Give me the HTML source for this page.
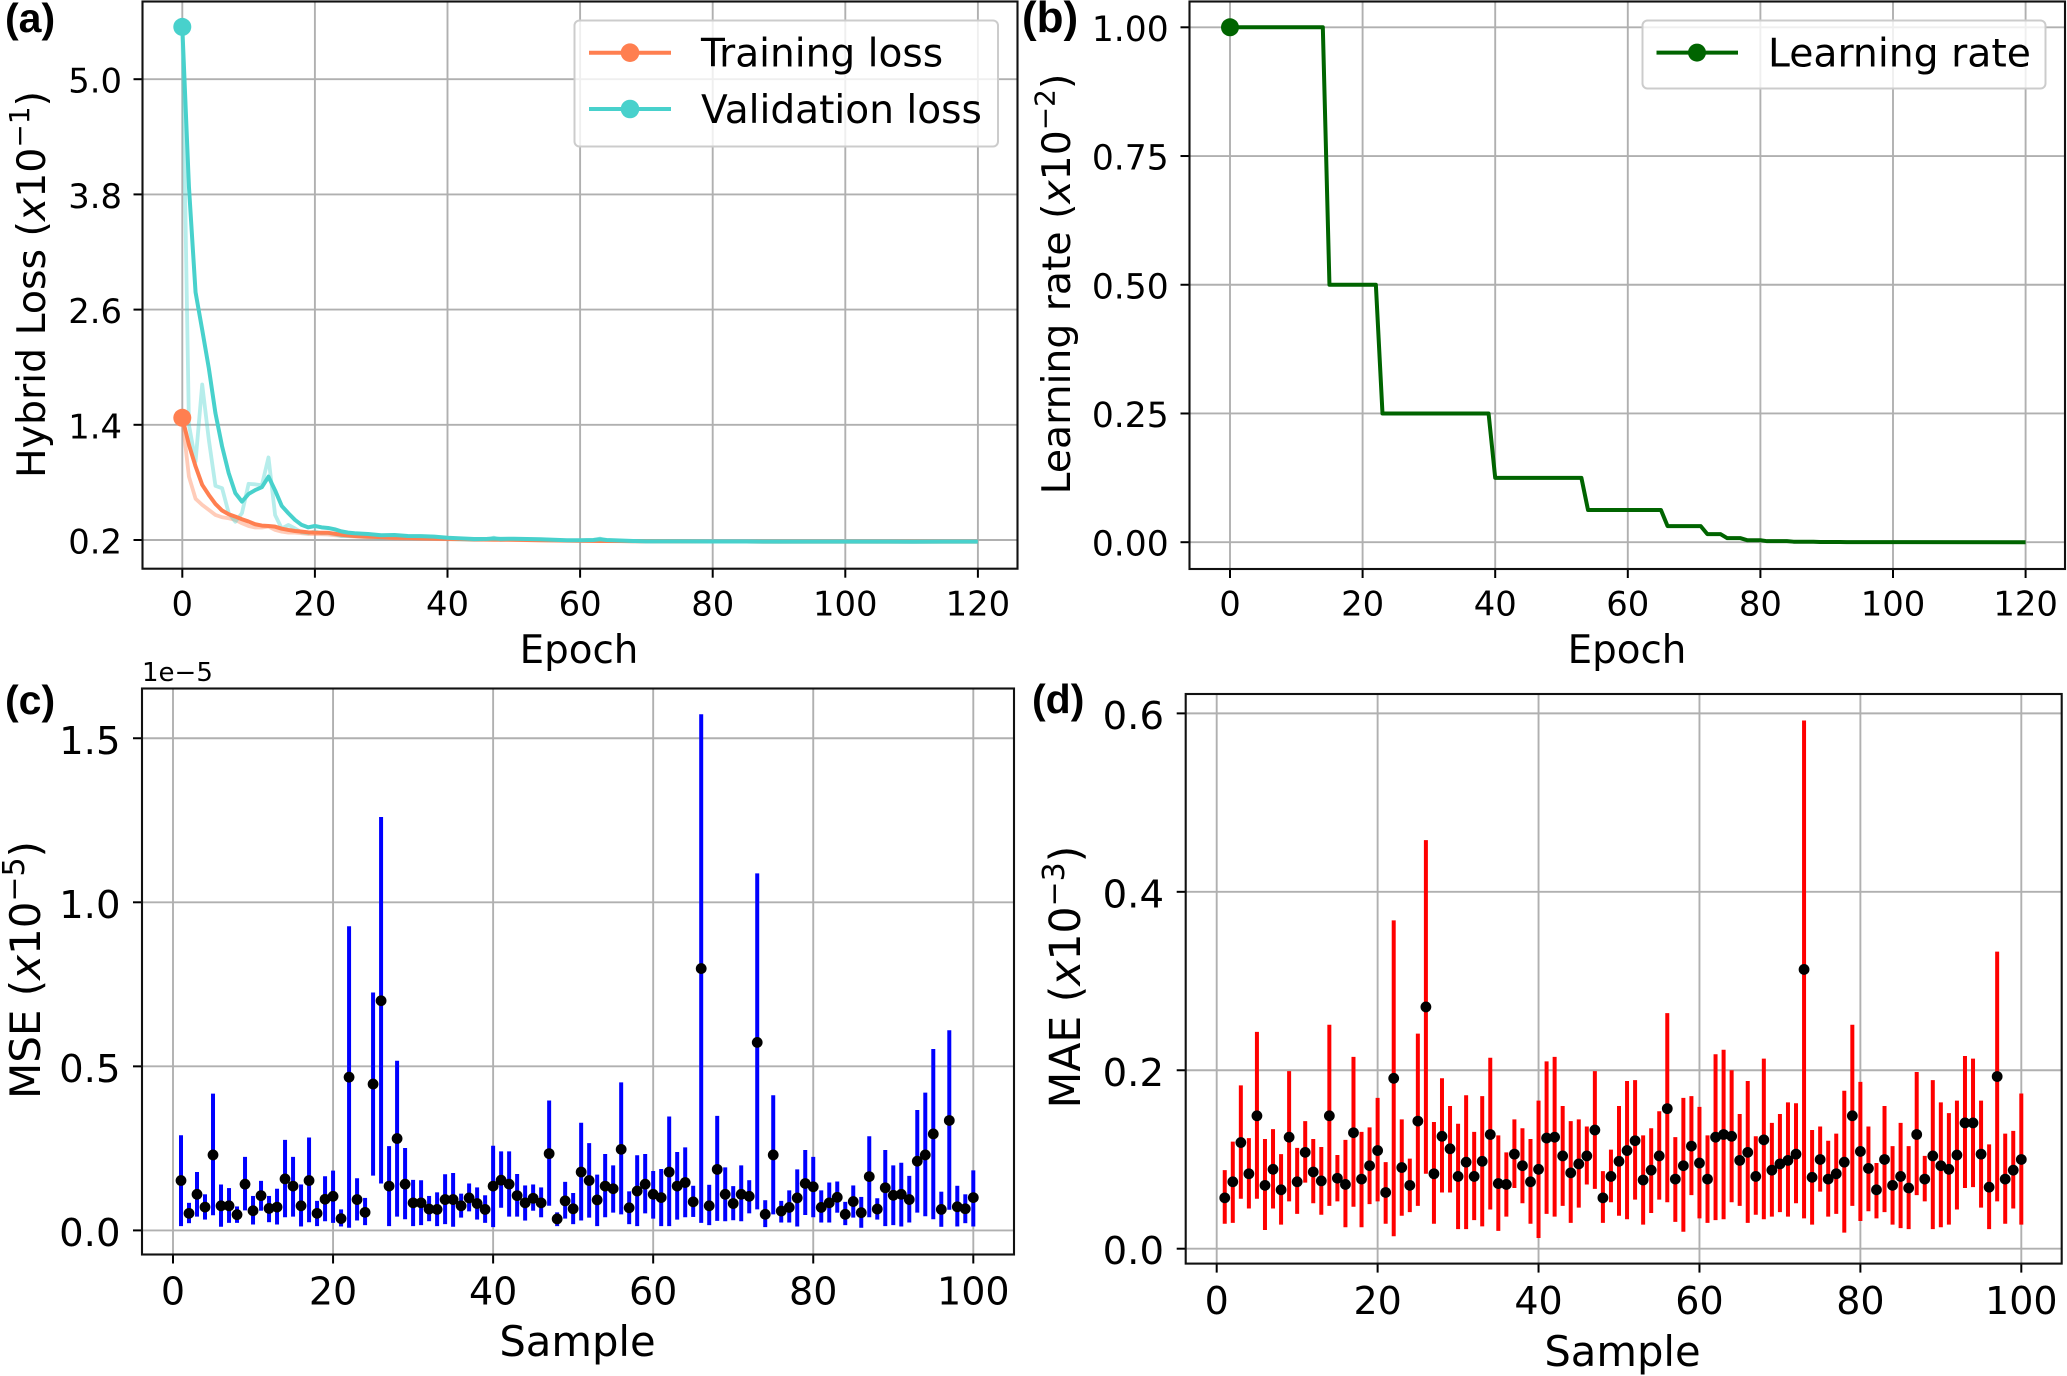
<!DOCTYPE html>
<html lang="en">
<head>
<meta charset="utf-8">
<title>Training curves and per-sample error</title>
<style>
html,body{margin:0;padding:0;background:#fff;}
svg{display:block;}
text{font-family:"DejaVu Sans","Liberation Sans",sans-serif;fill:#000;}
.panel-tag{font-family:"Liberation Sans",sans-serif;font-weight:700;font-size:41px;}
</style>
</head>
<body>
<svg id="fig" xmlns="http://www.w3.org/2000/svg" width="2067" height="1376" viewBox="0 0 2067 1376">
  <rect x="0" y="0" width="2067" height="1376" fill="#fff"/>
  <g id="pa"></g>
  <g id="pb"></g>
  <g id="pc"></g>
  <g id="pd"></g>

  <text class="panel-tag" x="5" y="32">(a)</text>
  <text class="panel-tag" x="1022" y="32" style="font-size:44px">(b)</text>
  <text class="panel-tag" x="5" y="714">(c)</text>
  <text class="panel-tag" x="1032" y="713">(d)</text>

  <text x="579" y="663" font-size="38.8" text-anchor="middle">Epoch</text>
  <text x="1627" y="663" font-size="38.8" text-anchor="middle">Epoch</text>
  <text x="577.5" y="1356" font-size="41.7" text-anchor="middle">Sample</text>
  <text x="1622.5" y="1366" font-size="41.7" text-anchor="middle">Sample</text>

  <text transform="translate(45 284.5) rotate(-90)" font-size="39.4" text-anchor="middle">Hybrid Loss (<tspan font-style="italic">x</tspan>10<tspan dy="-16" font-size="28">−1</tspan><tspan dy="16">)</tspan></text>
  <text transform="translate(1070 284) rotate(-90)" font-size="39.3" text-anchor="middle">Learning rate (<tspan font-style="italic">x</tspan>10<tspan dy="-15.5" font-size="28">−2</tspan><tspan dy="15.5">)</tspan></text>
  <text transform="translate(40 970) rotate(-90)" font-size="42" text-anchor="middle">MSE (<tspan font-style="italic">x</tspan>10<tspan dy="-16" font-size="30">−5</tspan><tspan dy="16">)</tspan></text>
  <text transform="translate(1080 977) rotate(-90)" font-size="42.5" text-anchor="middle">MAE (<tspan font-style="italic">x</tspan>10<tspan dy="-16" font-size="30">−3</tspan><tspan dy="16">)</tspan></text>

  <text x="142" y="681" font-size="26">1e−5</text>

  <g id="legend-a">
    <rect x="574.5" y="20.5" width="423.5" height="126" rx="5" ry="5" fill="#fff" fill-opacity="0.8" stroke="#cccccc" stroke-width="2"/>
    <g>
      <line x1="589" y1="52.7" x2="671" y2="52.7" stroke="#ff7f50" stroke-width="4"/>
      <circle cx="630" cy="52.7" r="9.3" fill="#ff7f50"/>
      <text x="701" y="66.5" font-size="39.1">Training loss</text>
    </g>
    <g>
      <line x1="589" y1="109" x2="671" y2="109" stroke="#48d1cc" stroke-width="4"/>
      <circle cx="630" cy="109" r="9.3" fill="#48d1cc"/>
      <text x="701" y="123" font-size="39.1">Validation loss</text>
    </g>
  </g>
  <g id="legend-b">
    <rect x="1642.5" y="20.5" width="403" height="68" rx="5" ry="5" fill="#fff" fill-opacity="0.8" stroke="#cccccc" stroke-width="2"/>
    <line x1="1656.5" y1="52.6" x2="1738" y2="52.6" stroke="#006400" stroke-width="4"/>
    <circle cx="1697" cy="52.6" r="9" fill="#006400"/>
    <text x="1768" y="66.5" font-size="39.3">Learning rate</text>
  </g>
</svg>
<script>
/* ---------- Panel (a): hybrid loss ---------- */
const lossEpochs = [0,1,2,3,4,5,6,7,8,9,10,11,12,13,14,15,16,17,18,19,20,21,22,23,24,25,26,28,30,32,34,36,38,40,42,44,46,47,48,50,52,54,56,58,60,62,63,64,66,68,70,75,80,85,90,95,100,105,110,115,120];
const trainLossRaw = [1.473,.86,.63,.566,.514,.461,.437,.426,.41,.374,.346,.33,.33,.34,.305,.287,.277,.277,.27,.263,.262,.26,.258,.25,.245,.24,.235,.228,.222,.218,.215,.212,.21,.208,.206,.204,.202,.202,.201,.2,.198,.196,.194,.192,.19,.189,.189,.188,.187,.186,.185,.185,.184,.184,.183,.183,.183,.183,.183,.183,.183];
const trainLossSmooth = [1.473,1.193,.967,.775,.67,.576,.507,.468,.444,.416,.392,.364,.35,.346,.339,.318,.305,.294,.287,.28,.277,.276,.275,.265,.255,.248,.242,.235,.23,.225,.222,.218,.215,.212,.21,.207,.205,.204,.204,.203,.2,.198,.196,.194,.192,.191,.19,.19,.189,.188,.187,.186,.184,.184,.183,.183,.183,.183,.183,.183,.183];
const valLossRaw = [5.545,1.4,1.02,1.82,1.245,.764,.74,.48,.39,.48,.785,.78,.77,1.06,.46,.32,.357,.32,.28,.27,.29,.27,.27,.26,.24,.24,.24,.23,.22,.23,.22,.225,.22,.21,.205,.2,.205,.225,.2,.21,.205,.2,.195,.195,.195,.2,.215,.195,.19,.186,.185,.185,.183,.185,.182,.184,.183,.182,.184,.183,.183];
const valLossSmooth = [5.545,3.88,2.78,2.39,1.99,1.52,1.176,.897,.688,.60,.68,.72,.75,.86,.716,.555,.479,.409,.357,.332,.346,.332,.325,.311,.29,.277,.27,.263,.249,.252,.242,.24,.235,.224,.217,.21,.212,.216,.212,.213,.21,.208,.203,.197,.198,.2,.208,.2,.195,.19,.186,.186,.184,.184,.183,.183,.183,.183,.182,.183,.183];
const epochTicks = [0,20,40,60,80,100,120];
const epochTickLabels = ["0","20","40","60","80","100","120"];
const lossTicks = [0.2,1.4,2.6,3.8,5.0];
const lossTickLabels = ["0.2","1.4","2.6","3.8","5.0"];

/* ---------- Panel (b): learning rate ---------- */
const lrEpochs = [0,14,15,22,23,39,40,53,54,65,66,71,72,74,75,77,78,80,81,84,85,88,89,92,93,120];
const lrValues = [1,1,.5,.5,.25,.25,.125,.125,.0625,.0625,.03125,.03125,.015625,.015625,.0078,.0078,.0039,.0039,.002,.002,.001,.001,.0005,.0005,.0002,0];
const lrTicks = [0,0.25,0.5,0.75,1];
const lrTickLabels = ["0.00","0.25","0.50","0.75","1.00"];

/* ---------- Panel (c): MSE per sample ---------- */
const mseMean = [.152,.052,.110,.071,.230,.075,.075,.048,.141,.060,.106,.067,.071,.157,.135,.075,.152,.052,.095,.104,.036,.467,.094,.055,.446,.700,.135,.280,.141,.084,.084,.065,.064,.094,.094,.075,.099,.082,.064,.135,.153,.141,.106,.084,.098,.084,.234,.035,.090,.066,.178,.152,.093,.135,.127,.247,.069,.120,.141,.110,.100,.178,.135,.146,.087,.798,.075,.186,.110,.082,.110,.104,.573,.049,.230,.059,.070,.099,.143,.133,.070,.084,.101,.049,.088,.054,.164,.065,.130,.107,.110,.094,.211,.230,.294,.064,.335,.072,.066,.100];
const mseUpper = [.290,.084,.178,.110,.417,.140,.129,.073,.224,.105,.151,.105,.127,.276,.224,.140,.283,.090,.165,.182,.064,.927,.159,.099,.725,1.260,.257,.517,.251,.154,.153,.105,.116,.171,.175,.112,.143,.131,.107,.258,.241,.241,.172,.137,.140,.131,.396,.055,.148,.114,.328,.266,.170,.233,.198,.451,.119,.229,.233,.181,.187,.347,.239,.253,.136,1.573,.139,.349,.192,.135,.198,.153,1.088,.092,.412,.090,.122,.186,.245,.224,.122,.146,.149,.087,.137,.102,.287,.098,.245,.198,.206,.166,.367,.420,.553,.118,.610,.136,.110,.183];
const mseLower = [.013,.022,.042,.033,.046,.011,.023,.023,.061,.018,.060,.025,.018,.040,.042,.012,.025,.013,.028,.023,.012,.008,.030,.016,.167,.143,.013,.042,.034,.013,.016,.028,.013,.019,.011,.039,.058,.033,.023,.010,.069,.042,.042,.030,.060,.040,.075,.013,.036,.019,.030,.039,.013,.040,.054,.049,.019,.013,.052,.036,.013,.013,.033,.040,.041,.023,.016,.029,.028,.031,.028,.052,.064,.010,.049,.024,.024,.012,.047,.040,.024,.024,.054,.016,.039,.008,.040,.033,.013,.016,.012,.024,.054,.043,.034,.011,.063,.012,.022,.012];
const mseTicks = [0,0.5,1,1.5];
const mseTickLabels = ["0.0","0.5","1.0","1.5"];

/* ---------- Panel (d): MAE per sample ---------- */
const maeMean = [.057,.075,.119,.084,.149,.071,.089,.066,.125,.075,.108,.086,.076,.149,.079,.072,.130,.078,.093,.110,.063,.191,.091,.071,.143,.271,.084,.126,.112,.081,.097,.081,.098,.128,.073,.072,.106,.093,.075,.089,.124,.125,.104,.085,.095,.104,.133,.057,.081,.098,.110,.121,.077,.088,.104,.157,.078,.093,.115,.096,.078,.125,.128,.126,.099,.108,.081,.122,.088,.095,.099,.106,.313,.080,.100,.078,.084,.097,.149,.109,.090,.066,.100,.071,.081,.068,.128,.078,.104,.093,.089,.105,.141,.141,.106,.069,.193,.078,.088,.100];
const maeUpper = [.088,.120,.183,.124,.243,.123,.134,.106,.199,.113,.143,.123,.114,.251,.105,.122,.215,.131,.136,.169,.097,.368,.145,.101,.241,.458,.142,.191,.160,.140,.172,.131,.171,.214,.127,.108,.145,.135,.123,.166,.210,.215,.160,.143,.145,.137,.199,.087,.111,.160,.188,.189,.127,.135,.154,.264,.125,.169,.171,.159,.127,.218,.223,.200,.151,.188,.126,.213,.141,.151,.164,.163,.592,.133,.137,.121,.129,.177,.251,.187,.137,.096,.160,.115,.141,.115,.198,.104,.189,.164,.152,.166,.216,.213,.166,.117,.333,.129,.132,.174];
const maeLower = [.028,.029,.056,.045,.056,.021,.045,.027,.053,.039,.074,.051,.038,.048,.053,.024,.047,.024,.050,.053,.028,.014,.037,.041,.048,.084,.028,.063,.063,.022,.022,.032,.025,.044,.020,.036,.068,.051,.028,.012,.039,.036,.048,.029,.046,.072,.067,.029,.052,.037,.033,.055,.027,.040,.055,.052,.030,.019,.060,.034,.029,.032,.033,.052,.048,.029,.038,.033,.036,.041,.036,.051,.034,.027,.064,.036,.039,.018,.048,.031,.042,.034,.041,.027,.023,.022,.060,.053,.022,.024,.027,.044,.068,.069,.046,.022,.053,.028,.045,.027];
const maeTicks = [0,0.2,0.4,0.6];
const maeTickLabels = ["0.0","0.2","0.4","0.6"];

const sampleTicks = [0,20,40,60,80,100];
const sampleTickLabels = ["0","20","40","60","80","100"];

/* ---------- Axis functions ---------- */
const xLossAxis = function (v) { return 182.3 + 6.63 * v; };
const yLossAxis = function (v) { return 540 - (v - 0.2) * 96; };
const xLrAxis = function (v) { return 1230 + 6.63 * v; };
const yLrAxis = function (v) { return 542.2 - 514.9 * v; };
const xMseAxis = function (v) { return 173 + 8.003 * v; };
const yMseAxis = function (v) { return 1230.4 - 328.1 * v; };
const xMaeAxis = function (v) { return 1216.7 + 8.046 * v; };
const yMaeAxis = function (v) { return 1248.7 - 892.2 * v; };

const SVG_NS = 'http://www.w3.org/2000/svg';
function make(parent, tag, attrs) {
  const el = document.createElementNS(SVG_NS, tag);
  Object.keys(attrs).forEach(function (k) { el.setAttribute(k, attrs[k]); });
  parent.appendChild(el);
  return el;
}

function drawFrame(parent, box, xAxis, yAxis, xTicks, xLabels, yTicks, yLabels, font, xBase, yRight, yShift) {
  xTicks.forEach(function (t, i) {
    const px = xAxis(t);
    const grid = make(parent, 'line', {x1: px, x2: px, y1: box.top, y2: box.bottom, stroke: '#b0b0b0', 'stroke-width': 1.9});
    
    
    const tick = make(parent, 'line', {x1: px, x2: px, y1: box.bottom, y2: box.bottom + 9, stroke: '#000', 'stroke-width': 2});
    
    
    const label = make(parent, 'text', {x: px, y: xBase, 'font-size': font.x, 'text-anchor': 'middle'});
    label.textContent = xLabels[i];
    
    
  });
  yTicks.forEach(function (t, i) {
    const py = yAxis(t);
    const grid = make(parent, 'line', {x1: box.left, x2: box.right, y1: py, y2: py, stroke: '#b0b0b0', 'stroke-width': 1.9});
    
    
    const tick = make(parent, 'line', {x1: box.left - 9, x2: box.left, y1: py, y2: py, stroke: '#000', 'stroke-width': 2});
    
    
    const label = make(parent, 'text', {x: yRight, y: py + yShift, 'font-size': font.y, 'text-anchor': 'end'});
    label.textContent = yLabels[i];
    
    
  });
}

function drawSpines(parent, box) {
  const r = make(parent, 'rect', {x: box.left, y: box.top, width: box.right - box.left, height: box.bottom - box.top, fill: 'none', stroke: '#111', 'stroke-width': 2.1});
  
  
}

function linePath(xs, ys, xAxis, yAxis) {
  return xs.map(function (x, i) {
    return (i ? 'L' : 'M') + xAxis(x).toFixed(2) + ' ' + yAxis(ys[i]).toFixed(2);
  }).join(' ');
}

function drawErrorPanel(parent, mean, upper, lower, xAxis, yAxis, color) {
  mean.forEach(function (m, i) {
    const px = xAxis(i + 1);
    const bar = make(parent, 'line', {x1: px, x2: px, y1: yAxis(lower[i]), y2: yAxis(upper[i]), stroke: color, 'stroke-width': 4});
    
    
  });
  mean.forEach(function (m, i) {
    const dot = make(parent, 'circle', {cx: xAxis(i + 1), cy: yAxis(m), r: 5.4, fill: '#000'});
    
    
  });
}

/* Panel a */
const pa = document.getElementById('pa');
const boxA = {left: 142.5, right: 1017.5, top: 1.5, bottom: 568.7};
drawFrame(pa, boxA, xLossAxis, yLossAxis, epochTicks, epochTickLabels, lossTicks, lossTickLabels, {x: 33.8, y: 33.8}, 615.5, 122, 13.5);
const trainRawLine = make(pa, 'path', {d: linePath(lossEpochs, trainLossRaw, xLossAxis, yLossAxis), fill: 'none', stroke: '#ff7f50', 'stroke-opacity': 0.4, 'stroke-width': 3.8, 'stroke-linejoin': 'round'});


const valRawLine = make(pa, 'path', {d: linePath(lossEpochs, valLossRaw, xLossAxis, yLossAxis), fill: 'none', stroke: '#48d1cc', 'stroke-opacity': 0.4, 'stroke-width': 3.8, 'stroke-linejoin': 'round'});


const trainLine = make(pa, 'path', {d: linePath(lossEpochs, trainLossSmooth, xLossAxis, yLossAxis), fill: 'none', stroke: '#ff7f50', 'stroke-width': 4, 'stroke-linejoin': 'round'});


const valLine = make(pa, 'path', {d: linePath(lossEpochs, valLossSmooth, xLossAxis, yLossAxis), fill: 'none', stroke: '#48d1cc', 'stroke-width': 4, 'stroke-linejoin': 'round'});


const trainStart = make(pa, 'circle', {cx: xLossAxis(lossEpochs[0]), cy: yLossAxis(trainLossSmooth[0]), r: 9, fill: '#ff7f50'});


const valStart = make(pa, 'circle', {cx: xLossAxis(lossEpochs[0]), cy: yLossAxis(valLossSmooth[0]), r: 9, fill: '#48d1cc'});


drawSpines(pa, boxA);

/* Panel b */
const pb = document.getElementById('pb');
const boxB = {left: 1189.5, right: 2065, top: 1.5, bottom: 569};
drawFrame(pb, boxB, xLrAxis, yLrAxis, epochTicks, epochTickLabels, lrTicks, lrTickLabels, {x: 33.8, y: 34.5}, 615.5, 1168.7, 13.5);
const lrLine = make(pb, 'path', {d: linePath(lrEpochs, lrValues, xLrAxis, yLrAxis), fill: 'none', stroke: '#006400', 'stroke-width': 4, 'stroke-linejoin': 'round'});


const lrStart = make(pb, 'circle', {cx: xLrAxis(lrEpochs[0]), cy: yLrAxis(lrValues[0]), r: 9, fill: '#006400'});


drawSpines(pb, boxB);

/* Panel c */
const pc = document.getElementById('pc');
const boxC = {left: 142, right: 1014, top: 688.5, bottom: 1254.5};
drawFrame(pc, boxC, xMseAxis, yMseAxis, sampleTicks, sampleTickLabels, mseTicks, mseTickLabels, {x: 38, y: 38.6}, 1304.5, 120.5, 15.5);
drawErrorPanel(pc, mseMean, mseUpper, mseLower, xMseAxis, yMseAxis, '#0000ff');
drawSpines(pc, boxC);

/* Panel d */
const pd = document.getElementById('pd');
const boxD = {left: 1185.7, right: 2061.7, top: 694, bottom: 1263.6};
drawFrame(pd, boxD, xMaeAxis, yMaeAxis, sampleTicks, sampleTickLabels, maeTicks, maeTickLabels, {x: 38, y: 38.6}, 1314, 1164, 15.5);
drawErrorPanel(pd, maeMean, maeUpper, maeLower, xMaeAxis, yMaeAxis, '#ff0000');
drawSpines(pd, boxD);
</script>
</body>
</html>
